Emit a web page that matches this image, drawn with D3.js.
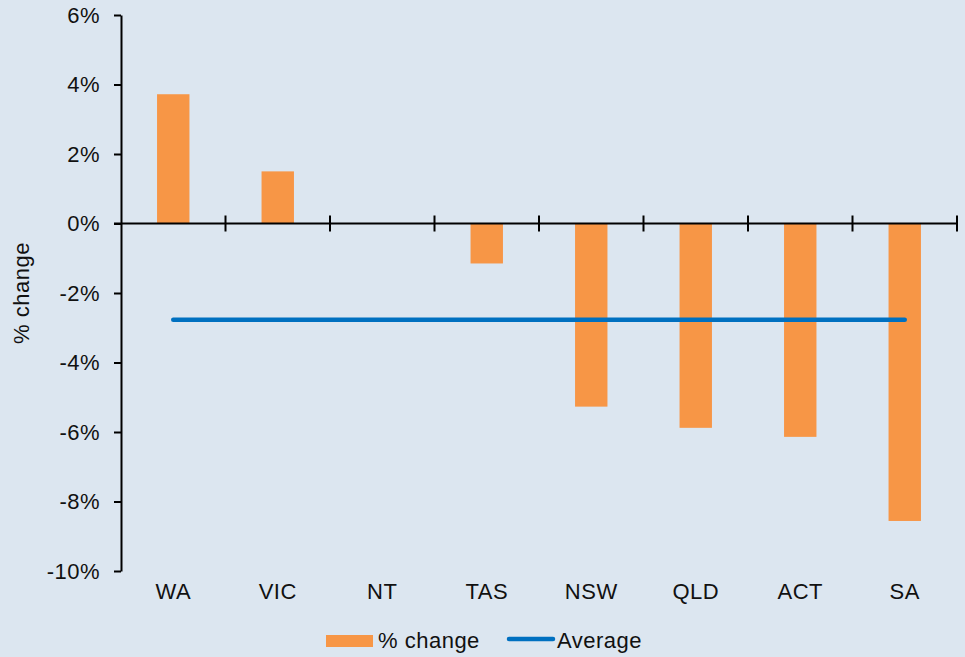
<!DOCTYPE html>
<html>
<head>
<meta charset="utf-8">
<script src="https://cdn.jsdelivr.net/npm/d3@7"></script>
<style>
  body { margin: 0; background: #dce6f0; }
  svg { display: block; font-family: "Liberation Sans", Arial, sans-serif; }
  text { letter-spacing: 0.5px; }
</style>
</head>
<body>
<div id="chart"></div>
<script>
var states = ["WA", "VIC", "NT", "TAS", "NSW", "QLD", "ACT", "SA"];
var changes = [3.72, 1.5, 0, -1.15, -5.27, -5.88, -6.14, -8.56];
var average = -2.77;
var yTicks = [-10, -8, -6, -4, -2, 0, 2, 4, 6];

function init() {
  var width = 965, height = 657;
  var fs = 22;

  var svg = d3.select("#chart")
    .append("svg")
    .attr("width", width)
    .attr("height", height);

  svg.append("rect").attr("width", width).attr("height", height).attr("fill", "#dce6f0");

  var x = d3.scaleBand().domain(states).range([121, 957]);
  var y = d3.scaleLinear().domain([-10, 6]).range([571, 15]);

  var barW = x.bandwidth() * 0.31;

  // bars
  svg.selectAll("rect.bar")
    .data(states)
    .enter()
    .append("rect")
    .attr("class", "bar")
    .attr("x", function(d) { return x(d) + x.bandwidth() / 2 - barW / 2; })
    .attr("y", function(d, i) { return y(Math.max(0, changes[i])); })
    .attr("width", barW)
    .attr("height", function(d, i) { return Math.abs(y(changes[i]) - y(0)); })
    .attr("fill", "#f79646");

  // y axis
  var yAxis = svg.append("g")
    .attr("transform", "translate(121,0)")
    .call(d3.axisLeft(y).tickValues(yTicks).tickFormat(function(d) { return d + "%"; })
      .tickSizeInner(7).tickSizeOuter(0).tickPadding(14));
  yAxis.select(".domain").attr("stroke", "#000").attr("stroke-width", 2);
  yAxis.selectAll(".tick line").attr("stroke", "#000").attr("stroke-width", 2);
  yAxis.selectAll(".tick text").attr("font-size", fs).attr("fill", "#111")
    .attr("font-family", "Liberation Sans, Arial, sans-serif");

  // x axis at zero
  var xAxis = svg.append("g")
    .attr("transform", "translate(0," + y(0) + ")")
    .call(d3.axisBottom(x).tickSize(0).tickPadding(y(-10) - y(0) + 12));
  xAxis.select(".domain").remove();
  xAxis.selectAll(".tick text").attr("font-size", fs).attr("fill", "#111")
    .attr("font-family", "Liberation Sans, Arial, sans-serif");

  svg.append("line")
    .attr("x1", 114).attr("x2", 958)
    .attr("y1", y(0)).attr("y2", y(0))
    .attr("stroke", "#000").attr("stroke-width", 2);

  svg.selectAll("line.xtick")
    .data(states)
    .enter()
    .append("line")
    .attr("class", "xtick")
    .attr("x1", function(d) { return x(d) + x.bandwidth(); })
    .attr("x2", function(d) { return x(d) + x.bandwidth(); })
    .attr("y1", y(0) - 8)
    .attr("y2", y(0) + 8)
    .attr("stroke", "#000").attr("stroke-width", 2);

  // average line
  svg.append("line")
    .attr("x1", x(states[0]) + x.bandwidth() / 2)
    .attr("x2", x(states[states.length - 1]) + x.bandwidth() / 2)
    .attr("y1", y(average)).attr("y2", y(average))
    .attr("stroke", "#0070c0").attr("stroke-width", 4.5)
    .attr("stroke-linecap", "round");

  // y label
  svg.append("text")
    .attr("transform", "translate(29," + y(-2) + ") rotate(-90)")
    .attr("text-anchor", "middle")
    .attr("font-size", fs).attr("fill", "#111")
    .text("% change");

  // legend
  var lg = svg.append("g");
  lg.append("rect").attr("x", 326).attr("y", 635).attr("width", 47).attr("height", 12).attr("fill", "#f79646");
  lg.append("text").attr("x", 378).attr("y", 648).attr("font-size", fs).attr("fill", "#111").text("% change");
  lg.append("line").attr("x1", 509).attr("x2", 553).attr("y1", 639).attr("y2", 639)
    .attr("stroke", "#0070c0").attr("stroke-width", 4.5).attr("stroke-linecap", "round");
  lg.append("text").attr("x", 557).attr("y", 648).attr("font-size", fs).attr("fill", "#111").text("Average");
}

window.onload = init;
</script>
</body>
</html>
